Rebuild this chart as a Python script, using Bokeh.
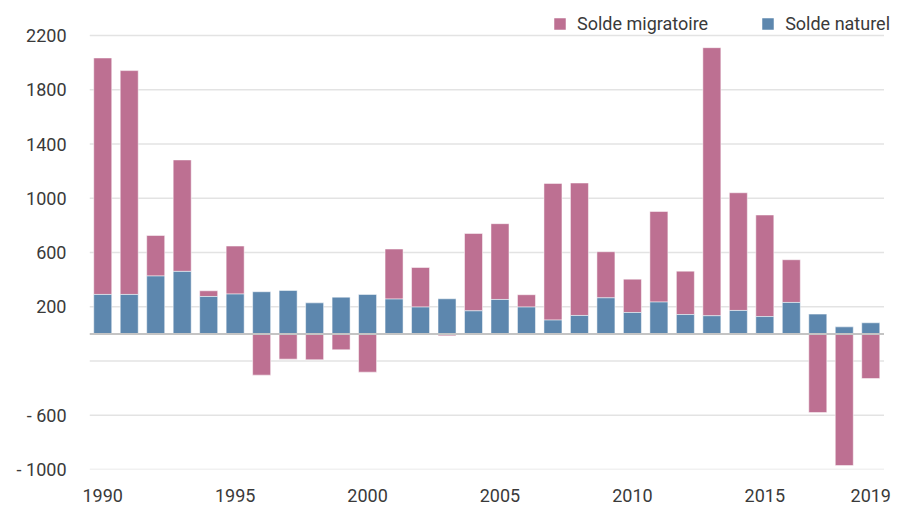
import numpy as np
from bokeh.plotting import figure
from bokeh.models import FixedTicker, Legend, LegendItem, ColumnDataSource
from bokeh.embed import file_html
from bokeh.resources import INLINE

years = list(range(1990, 2020))
solde_naturel = [291, 291, 427, 461, 276, 294, 311, 320, 229, 271,
                 291, 257, 198, 259, 170, 254, 198, 102, 136, 266,
                 158, 235, 143, 134, 173, 128, 232, 146, 52, 82]
solde_migratoire = [1744, 1651, 299, 822, 42, 354, -304, -186, -191, -117,
                    -282, 369, 292, -14, 571, 559, 91, 1008, 977, 340,
                    246, 668, 320, 1977, 868, 749, 315, -580, -971, -329]
y_ticks = [-1000, -600, -200, 200, 600, 1000, 1400, 1800, 2200]
y_labels = {-1000: "- 1000", -600: "- 600", -200: ""}
x_ticks = [1990, 1995, 2000, 2005, 2010, 2015, 2019]

nat = np.array(solde_naturel, dtype=float)
mig = np.array(solde_migratoire, dtype=float)
base = np.where(mig > 0, np.maximum(nat, 0), 0)
src = ColumnDataSource(dict(x=years, nat=nat, mb=base, mt=base + mig))

x_lo = years[0] - 0.5
x_hi = years[-1] + 0.5
grid_src = ColumnDataSource(dict(x0=[x_lo] * len(y_ticks), x1=[x_hi] * len(y_ticks),
                                 y=y_ticks))

FONT = "Roboto"
TXT = "#3a3a3a"
PINK = "#bd7092"
BLUE = "#5d87ae"

p = figure(width=898, height=509, output_backend="svg", toolbar_location=None,
           x_range=(x_lo, 2020.01), y_range=(-1000, 2400),
           min_border_left=89, min_border_right=1, min_border_top=8,
           min_border_bottom=40)
p.outline_line_color = None
p.background_fill_color = "white"
p.xgrid.visible = False
p.ygrid.visible = False

p.segment(x0="x0", x1="x1", y0="y", y1="y", source=grid_src,
          line_color="#e3e3e3", line_width=1.5)

r_mig = p.vbar(x="x", bottom="mb", top="mt", width=0.68, source=src,
               fill_color=PINK, line_color="white", line_alpha=0.5, line_width=1)
r_nat = p.vbar(x="x", bottom=0, top="nat", width=0.68, source=src,
               fill_color=BLUE, line_color="white", line_alpha=0.5, line_width=1)

p.segment(x0=[x_lo], x1=[x_hi], y0=[0], y1=[0], line_color="#c4c4c4", line_width=2)

p.yaxis.ticker = FixedTicker(ticks=y_ticks)
p.yaxis.major_label_overrides = y_labels
p.yaxis.axis_line_color = None
p.yaxis.major_tick_line_color = None
p.yaxis.minor_tick_line_color = None
p.yaxis.major_label_standoff = 17
p.yaxis.major_label_text_font = FONT
p.yaxis.major_label_text_font_size = "18px"
p.yaxis.major_label_text_color = TXT

p.xaxis.ticker = FixedTicker(ticks=x_ticks)
p.xaxis.axis_line_color = None
p.xaxis.major_tick_line_color = None
p.xaxis.minor_tick_line_color = None
p.xaxis.major_tick_out = 0
p.xaxis.major_label_standoff = 19
p.xaxis.major_label_text_font = FONT
p.xaxis.major_label_text_font_size = "18px"
p.xaxis.major_label_text_color = TXT

legend = Legend(items=[LegendItem(label="Solde migratoire", renderers=[r_mig]),
                       LegendItem(label="Solde naturel", renderers=[r_nat])],
                orientation="horizontal", location=(463, 435),
                glyph_width=15, glyph_height=15, label_height=15,
                label_standoff=10, spacing=52, padding=0, margin=0,
                border_line_color=None, background_fill_alpha=0,
                label_text_font=FONT, label_text_font_size="18px",
                label_text_color=TXT)
p.add_layout(legend, "center")

open("out.html", "w").write(file_html(p, INLINE))
